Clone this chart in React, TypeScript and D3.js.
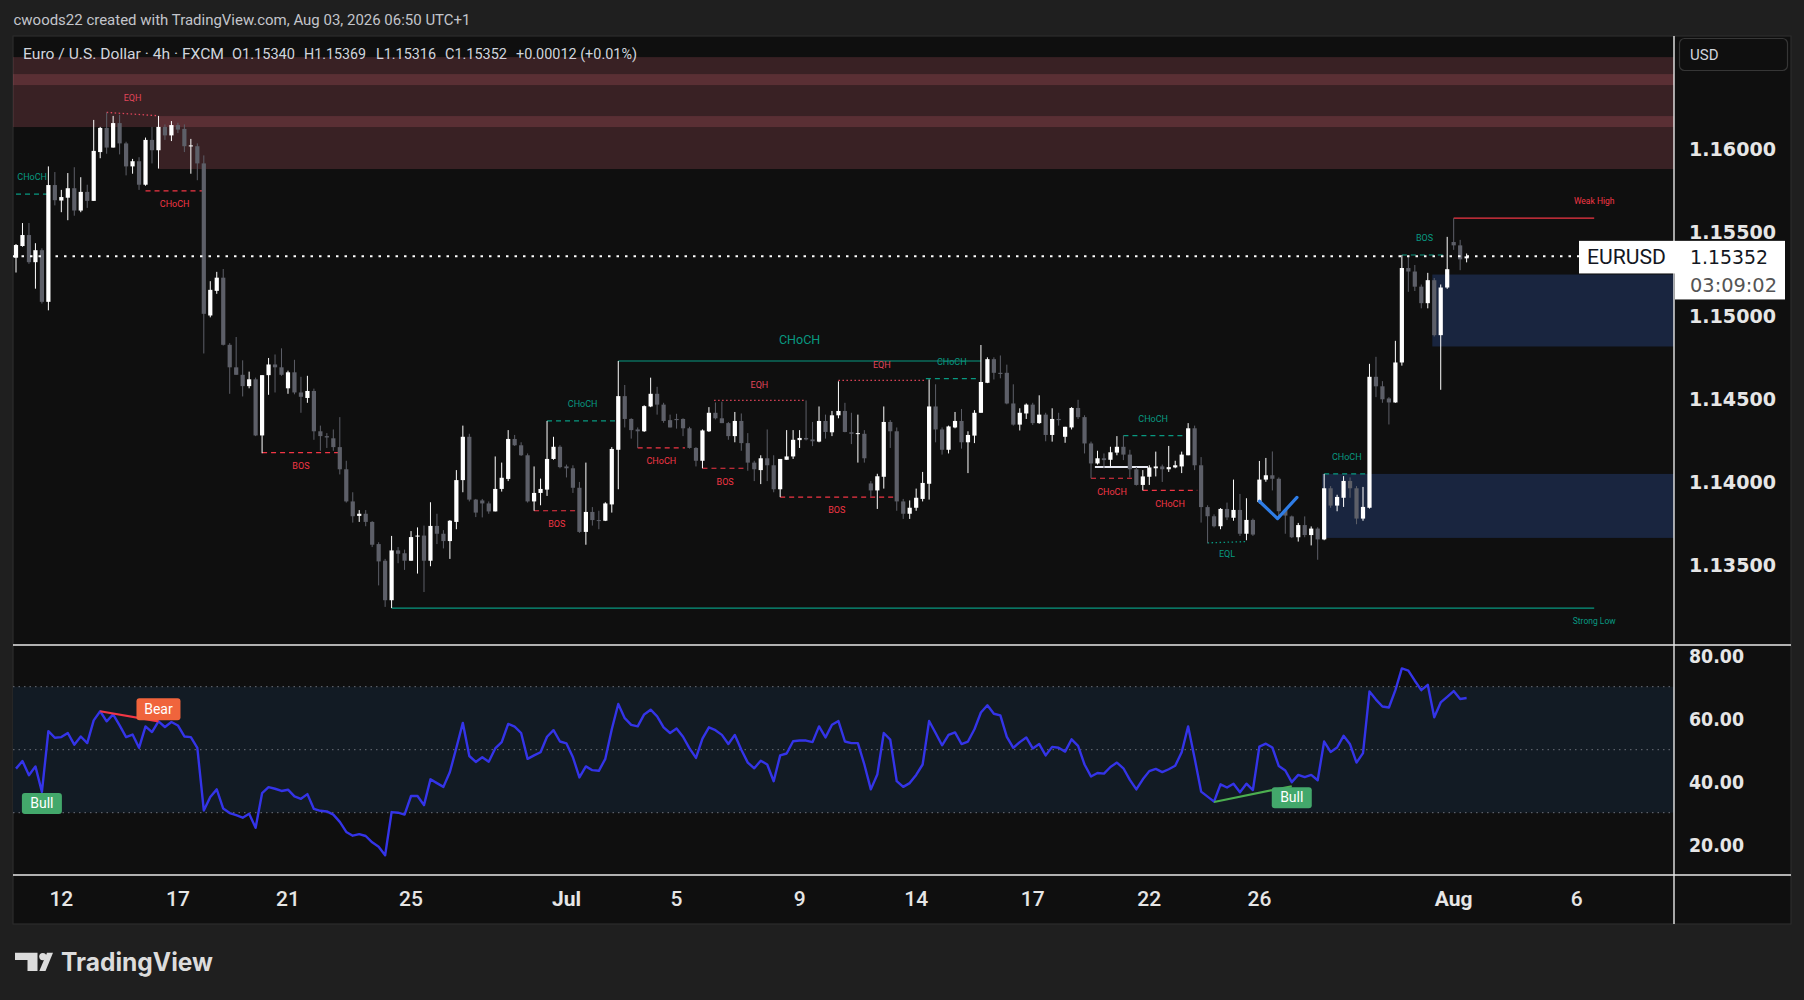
import React from 'react';
import * as d3 from 'd3';

// 4h candles, EURUSD (bar 0 = Jun 11 late session)
const opens = [
  1.15344, 1.15414, 1.1548, 1.15317, 1.15389, 1.15079, 1.1578, 1.15687, 1.15704, 1.15761,
  1.15627, 1.15739, 1.15685, 1.15978, 1.16123, 1.16005, 1.16152, 1.1603, 1.15892, 1.15923,
  1.15782, 1.16051, 1.15989, 1.16129, 1.16078, 1.1614, 1.16117, 1.16013, 1.16013, 1.1591,
  1.14997, 1.15145, 1.15224, 1.14821, 1.14686, 1.14641, 1.14573, 1.14614, 1.14277, 1.14639,
  1.14703, 1.14686, 1.1456, 1.14656, 1.14535, 1.14502, 1.14544, 1.14302, 1.14273, 1.1426,
  1.14207, 1.14074, 1.13881, 1.13794, 1.13807, 1.13758, 1.13625, 1.13525, 1.13288, 1.13587,
  1.1357, 1.13525, 1.1367, 1.13676, 1.13525, 1.13734, 1.13687, 1.13643, 1.13758, 1.14009,
  1.14269, 1.13892, 1.13887, 1.13869, 1.13821, 1.13956, 1.14016, 1.14256, 1.14218, 1.14158,
  1.13881, 1.13932, 1.13952, 1.14136, 1.14209, 1.14091, 1.1408, 1.13963, 1.13698, 1.13818,
  1.13769, 1.13765, 1.13863, 1.14191, 1.14513, 1.14376, 1.14313, 1.14302, 1.14451, 1.14527,
  1.14462, 1.14369, 1.14376, 1.14376, 1.1432, 1.14202, 1.14125, 1.14302, 1.14413, 1.1438,
  1.14351, 1.14273, 1.14364, 1.14231, 1.14114, 1.14069, 1.1414, 1.14098, 1.13954, 1.14131,
  1.14151, 1.14249, 1.14262, 1.14253, 1.1424, 1.14364, 1.14296, 1.14398, 1.14424, 1.14296,
  1.14287, 1.14287, 1.13989, 1.13947, 1.14029, 1.14358, 1.14302, 1.13881, 1.13807, 1.13843,
  1.13896, 1.13987, 1.14451, 1.14313, 1.14191, 1.14325, 1.14364, 1.14236, 1.14276, 1.14413,
  1.14593, 1.14735, 1.14653, 1.14653, 1.14469, 1.14342, 1.14409, 1.14462, 1.14351, 1.14402,
  1.1428, 1.14376, 1.14269, 1.14325, 1.14442, 1.14387, 1.14229, 1.14109, 1.1414, 1.14131,
  1.14174, 1.14209, 1.14162, 1.14074, 1.1398, 1.14029, 1.1408, 1.14091, 1.14074, 1.14085,
  1.14091, 1.14158, 1.1432, 1.14098, 1.13847, 1.13792, 1.13732, 1.13836, 1.13783, 1.1383,
  1.13687, 1.1377, 1.13877, 1.14012, 1.14038, 1.14017, 1.1383, 1.13791, 1.13666, 1.13739,
  1.13679, 1.13718, 1.13653, 1.1396, 1.13856, 1.13903, 1.14004, 1.1396, 1.13778, 1.13843,
  1.14629, 1.14572, 1.14499, 1.14475, 1.14715, 1.15282, 1.15261, 1.1517, 1.15071, 1.15209,
  1.14879, 1.15165, 1.15438, 1.15418, 1.1534,
];
const highs = [
  1.15426, 1.15552, 1.15552, 1.15431, 1.154, 1.15892, 1.15858, 1.15751, 1.15852, 1.15887,
  1.15827, 1.15782, 1.16171, 1.16129, 1.16216, 1.16195, 1.16202, 1.1604, 1.15937, 1.15947,
  1.16065, 1.16129, 1.16195, 1.16144, 1.16164, 1.16154, 1.16144, 1.16057, 1.1603, 1.15958,
  1.15203, 1.15259, 1.15276, 1.14831, 1.14868, 1.14728, 1.1466, 1.14624, 1.14639, 1.14742,
  1.14763, 1.148, 1.14666, 1.14731, 1.14629, 1.14635, 1.14558, 1.14336, 1.14291, 1.14313,
  1.14387, 1.14125, 1.13936, 1.13829, 1.13829, 1.13763, 1.13636, 1.13536, 1.13674, 1.13607,
  1.13592, 1.13703, 1.13725, 1.13736, 1.13876, 1.13807, 1.13709, 1.13769, 1.14069, 1.14336,
  1.14287, 1.13896, 1.13896, 1.13881, 1.14151, 1.14114, 1.14309, 1.1428, 1.14236, 1.14169,
  1.14091, 1.14018, 1.14364, 1.14269, 1.14218, 1.14102, 1.14098, 1.13998, 1.14114, 1.13847,
  1.13825, 1.13876, 1.14207, 1.14724, 1.1458, 1.1438, 1.14325, 1.14458, 1.14624, 1.14569,
  1.14473, 1.14402, 1.14407, 1.1438, 1.14329, 1.14207, 1.14313, 1.14447, 1.14475, 1.1448,
  1.14358, 1.14418, 1.14409, 1.14291, 1.14125, 1.14158, 1.14313, 1.14158, 1.14136, 1.14309,
  1.14309, 1.14309, 1.14487, 1.14358, 1.14451, 1.14402, 1.14424, 1.14602, 1.14473, 1.14413,
  1.14402, 1.14309, 1.14003, 1.14047, 1.14451, 1.14369, 1.14325, 1.13896, 1.13887, 1.13958,
  1.14058, 1.14613, 1.14584, 1.14325, 1.14336, 1.14418, 1.14436, 1.14302, 1.14429, 1.1482,
  1.14746, 1.14746, 1.14757, 1.14702, 1.14584, 1.1444, 1.14469, 1.14473, 1.14518, 1.14413,
  1.1444, 1.14413, 1.14329, 1.14447, 1.14491, 1.14398, 1.1424, 1.14185, 1.14169, 1.14209,
  1.14273, 1.14276, 1.14191, 1.14087, 1.14069, 1.14098, 1.1418, 1.14102, 1.14214, 1.14125,
  1.1418, 1.14351, 1.14336, 1.14147, 1.13858, 1.13803, 1.13841, 1.13874, 1.14012, 1.13926,
  1.139, 1.13778, 1.14124, 1.14142, 1.14181, 1.14025, 1.1383, 1.13796, 1.13752, 1.13791,
  1.13731, 1.13726, 1.14046, 1.13973, 1.13921, 1.14033, 1.14025, 1.13973, 1.13968, 1.14707,
  1.14749, 1.14603, 1.14507, 1.14845, 1.1536, 1.1536, 1.153, 1.15183, 1.15253, 1.15222,
  1.15183, 1.15469, 1.15581, 1.15451, 1.15369,
];
const lows = [
  1.15255, 1.1541, 1.15307, 1.15158, 1.15069, 1.15028, 1.15658, 1.15617, 1.15569, 1.15596,
  1.15617, 1.15643, 1.15685, 1.15941, 1.15968, 1.16005, 1.15964, 1.15838, 1.15848, 1.15751,
  1.15776, 1.1591, 1.15879, 1.16051, 1.16044, 1.16092, 1.15978, 1.15848, 1.15809, 1.14769,
  1.14986, 1.15127, 1.14817, 1.14527, 1.14641, 1.14511, 1.1456, 1.14273, 1.1417, 1.14521,
  1.14535, 1.14635, 1.14527, 1.14524, 1.14413, 1.14473, 1.14251, 1.14185, 1.14202, 1.14185,
  1.14043, 1.13874, 1.13754, 1.13758, 1.13732, 1.13607, 1.13377, 1.13248, 1.13241, 1.1351,
  1.1347, 1.13525, 1.13448, 1.13337, 1.13492, 1.13625, 1.13599, 1.13536, 1.13714, 1.13936,
  1.13881, 1.13787, 1.13785, 1.13807, 1.13821, 1.1394, 1.14003, 1.14214, 1.14154, 1.13874,
  1.13825, 1.13858, 1.13914, 1.14131, 1.1408, 1.14025, 1.13932, 1.13692, 1.13621, 1.13736,
  1.13714, 1.13763, 1.13814, 1.13954, 1.14325, 1.14258, 1.14202, 1.14298, 1.14447, 1.14402,
  1.14353, 1.14325, 1.14318, 1.14273, 1.14198, 1.14091, 1.1408, 1.14298, 1.14373, 1.14351,
  1.14251, 1.14236, 1.14185, 1.14065, 1.14003, 1.13985, 1.14003, 1.13936, 1.13907, 1.14131,
  1.14136, 1.14202, 1.14247, 1.14213, 1.14236, 1.14258, 1.14273, 1.1438, 1.14296, 1.14225,
  1.14114, 1.14114, 1.13909, 1.13836, 1.13958, 1.14202, 1.13825, 1.13776, 1.13776, 1.13825,
  1.13881, 1.13892, 1.14236, 1.14162, 1.14169, 1.1432, 1.14198, 1.14051, 1.14231, 1.14413,
  1.14591, 1.14613, 1.1462, 1.14464, 1.14336, 1.14307, 1.14376, 1.1434, 1.14347, 1.14242,
  1.1424, 1.14336, 1.14233, 1.14313, 1.14376, 1.14169, 1.1402, 1.14102, 1.1408, 1.14091,
  1.14158, 1.14129, 1.14025, 1.13976, 1.13947, 1.1398, 1.14031, 1.13998, 1.14058, 1.1408,
  1.14051, 1.14158, 1.14069, 1.13754, 1.1363, 1.13725, 1.13714, 1.13769, 1.13765, 1.13674,
  1.13648, 1.13674, 1.13869, 1.13999, 1.13947, 1.13778, 1.13687, 1.13661, 1.1364, 1.13666,
  1.13617, 1.13531, 1.13648, 1.13843, 1.13822, 1.13848, 1.13903, 1.13744, 1.13765, 1.13838,
  1.14507, 1.14473, 1.14343, 1.14473, 1.14696, 1.15139, 1.15144, 1.1504, 1.1504, 1.14871,
  1.14551, 1.15157, 1.15391, 1.15269, 1.15316,
];
const closes = [
  1.1542, 1.1548, 1.15317, 1.15389, 1.15079, 1.1578, 1.15689, 1.15708, 1.15761, 1.15627,
  1.15739, 1.15685, 1.15985, 1.16123, 1.16005, 1.16152, 1.1603, 1.15892, 1.15923, 1.15782,
  1.16051, 1.15989, 1.16129, 1.16078, 1.1614, 1.16113, 1.16013, 1.16018, 1.1591, 1.15007,
  1.15151, 1.15224, 1.14821, 1.14686, 1.14641, 1.14573, 1.14614, 1.14277, 1.14639, 1.14703,
  1.14686, 1.14641, 1.14656, 1.14535, 1.14509, 1.14544, 1.14302, 1.14273, 1.14265, 1.14207,
  1.14074, 1.13881, 1.13792, 1.13807, 1.13758, 1.13621, 1.13521, 1.13288, 1.13587, 1.13567,
  1.13525, 1.13667, 1.13676, 1.13525, 1.13734, 1.13687, 1.13643, 1.13765, 1.14009, 1.14269,
  1.13892, 1.13814, 1.13869, 1.13821, 1.13956, 1.14023, 1.14256, 1.14218, 1.14158, 1.13881,
  1.13932, 1.13956, 1.14136, 1.14209, 1.14087, 1.1408, 1.13963, 1.13698, 1.13818, 1.13769,
  1.13765, 1.13869, 1.14196, 1.14513, 1.14376, 1.14309, 1.14302, 1.14453, 1.14527, 1.14462,
  1.14364, 1.14325, 1.14369, 1.1432, 1.14202, 1.14125, 1.14307, 1.14413, 1.1438, 1.14351,
  1.14273, 1.14364, 1.14231, 1.14114, 1.14074, 1.1414, 1.14098, 1.13954, 1.14136, 1.14151,
  1.14251, 1.14262, 1.14253, 1.14242, 1.14364, 1.14298, 1.14398, 1.14424, 1.14298, 1.14287,
  1.14291, 1.1414, 1.13947, 1.14032, 1.14358, 1.14302, 1.13881, 1.13807, 1.13843, 1.13903,
  1.13992, 1.14451, 1.14313, 1.14191, 1.14331, 1.14364, 1.14236, 1.1428, 1.14413, 1.14598,
  1.14735, 1.14653, 1.14646, 1.14469, 1.14342, 1.14413, 1.14462, 1.14351, 1.14402, 1.1428,
  1.14376, 1.14369, 1.14329, 1.14442, 1.14387, 1.14229, 1.14109, 1.1414, 1.14129, 1.14176,
  1.14209, 1.14162, 1.14074, 1.1398, 1.14031, 1.14085, 1.14091, 1.14074, 1.14087, 1.14098,
  1.14162, 1.1432, 1.14098, 1.13847, 1.13792, 1.13732, 1.13836, 1.13785, 1.1383, 1.13687,
  1.1377, 1.13682, 1.14012, 1.14038, 1.14017, 1.13822, 1.13796, 1.13666, 1.13739, 1.13679,
  1.13718, 1.13653, 1.1396, 1.13856, 1.13908, 1.14004, 1.1396, 1.13778, 1.13848, 1.14629,
  1.14572, 1.14494, 1.14475, 1.14715, 1.15282, 1.15261, 1.1517, 1.15071, 1.15209, 1.14879,
  1.15165, 1.15275, 1.15418, 1.15334, 1.15352,
];
const rsiValues = [
  44.0, 46.4, 41.9, 44.7, 36.6, 55.9, 53.8, 54.0, 55.3, 51.6,
  54.2, 52.1, 59.3, 62.2, 59.0, 61.2, 57.7, 54.0, 54.8, 50.6,
  57.4, 55.6, 59.0, 57.2, 58.8, 57.7, 54.2, 54.0, 50.6, 30.7,
  35.0, 37.4, 31.3, 29.9, 29.2, 28.4, 29.7, 25.2, 36.2, 38.1,
  37.6, 36.9, 37.3, 35.2, 34.4, 35.9, 31.2, 30.6, 30.4, 29.4,
  27.1, 23.9, 22.7, 23.2, 22.6, 20.6, 19.2, 16.5, 30.2, 30.0,
  29.4, 35.3, 35.3, 32.4, 40.6, 39.4, 38.2, 42.9, 50.6, 58.5,
  48.0, 46.1, 47.6, 46.2, 50.4, 52.4, 58.2, 57.3, 55.3, 47.1,
  48.2, 49.2, 54.1, 56.2, 52.6, 52.0, 47.6, 41.2, 44.7, 43.5,
  43.3, 47.1, 56.5, 64.5, 60.0, 57.9, 57.4, 61.2, 62.7, 60.6,
  57.1, 55.3, 56.7, 54.1, 50.4, 47.4, 53.5, 57.1, 56.2, 54.7,
  51.8, 54.7, 50.0, 45.9, 44.1, 46.5, 45.3, 40.0, 48.2, 48.8,
  52.7, 52.9, 52.9, 52.4, 57.4, 53.9, 57.9, 59.1, 52.6, 52.1,
  52.1, 45.3, 37.4, 42.1, 55.3, 53.2, 40.0, 38.2, 39.4, 42.0,
  45.3, 59.1, 55.3, 51.4, 54.7, 55.5, 51.8, 52.6, 56.5, 61.8,
  64.1, 61.4, 60.9, 54.1, 50.6, 52.4, 53.9, 50.4, 51.8, 48.2,
  50.9, 50.6, 49.4, 53.3, 51.2, 45.3, 41.5, 42.6, 42.4, 44.5,
  45.9, 44.1, 40.4, 37.4, 40.6, 43.2, 43.9, 42.9, 43.8, 44.9,
  49.2, 57.4, 47.3, 36.7, 35.1, 33.5, 39.0, 38.0, 39.2, 36.5,
  39.2, 37.2, 51.0, 51.9, 50.7, 44.8, 43.4, 39.7, 42.0, 41.3,
  42.0, 40.3, 52.6, 49.3, 50.7, 54.4, 51.7, 45.9, 48.9, 68.5,
  65.9, 63.7, 63.4, 68.9, 75.8, 75.1, 71.9, 68.9, 70.6, 60.3,
  65.0, 66.8, 68.6, 66.1, 66.4,
];

const priceTicks = [1.16, 1.155, 1.15, 1.145, 1.14, 1.135];
const rsiTicks = [80, 60, 40, 20];
const rsiLevels = [70, 50, 30];
const timeTickBars = [7, 25, 42, 61, 85, 102, 121, 139, 157, 175, 192, 222, 241];
const timeTickLabels = ['12', '17', '21', '25', 'Jul', '5', '9', '14', '17', '22', '26', 'Aug', '6'];

// smart-money-concepts overlay
const internalBreaks = [
  { label: 'CHoCH', side: 'bull', from: 0, to: 5, price: 1.15726 },
  { label: 'CHoCH', side: 'bear', from: 20, to: 29, price: 1.15745 },
  { label: 'BOS', side: 'bear', from: 38, to: 50, price: 1.14174 },
  { label: 'BOS', side: 'bear', from: 80, to: 87, price: 1.13825 },
  { label: 'CHoCH', side: 'bull', from: 82, to: 93, price: 1.14364 },
  { label: 'CHoCH', side: 'bear', from: 96, to: 103.3, price: 1.14202 },
  { label: 'BOS', side: 'bear', from: 106, to: 113, price: 1.1408 },
  { label: 'BOS', side: 'bear', from: 118, to: 135.5, price: 1.13907 },
  { label: 'CHoCH', side: 'bull', from: 140.5, to: 148.5, price: 1.14618 },
  { label: 'CHoCH', side: 'bear', from: 166, to: 172.5, price: 1.1402 },
  { label: 'CHoCH', side: 'bull', from: 171, to: 180.2, price: 1.14276 },
  { label: 'CHoCH', side: 'bear', from: 174, to: 182.4, price: 1.13947 },
  { label: 'CHoCH', side: 'bull', from: 202, to: 209, price: 1.14046 },
  { label: 'BOS', side: 'bull', from: 214, to: 221, price: 1.1536 },
];
const swingBreaks = [{ label: 'CHoCH', side: 'bull', from: 93, to: 149, price: 1.14724 }];
const equalLevels = [
  { label: 'EQH', from: 14, to: 22, startPrice: 1.16216, endPrice: 1.16196 },
  { label: 'EQH', from: 107.8, to: 121.8, startPrice: 1.14487, endPrice: 1.14487 },
  { label: 'EQH', from: 127, to: 140.4, startPrice: 1.14607, endPrice: 1.14607 },
  { label: 'EQL', from: 184, to: 190, startPrice: 1.13632, endPrice: 1.1364 },
];
const trailingLevels = [
  { label: 'Strong Low', from: 58, to: 243.7, price: 1.13241 },
  { label: 'Weak High', from: 222, to: 243.7, price: 1.15581 },
];
const supplyZones = [
  { from: -3, top: 1.16548, bottom: 1.1638 },
  { from: -3, top: 1.16446, bottom: 1.16128 },
  { from: 22, top: 1.16194, bottom: 1.15876 },
];
const demandZones = [
  { from: 201.7, top: 1.14046, bottom: 1.13662 },
  { from: 218.7, top: 1.15243, bottom: 1.14811 },
];
const drawnLines = [{ from: 166.6, to: 174.8, price: 1.14087 }];
const checkMark = [
  [192, 1.13882],
  [194.8, 1.13778],
  [197.8, 1.13905],
];

// RSI divergences
const divergenceLines = [
  { side: 'bear', from: 13, to: 22, startValue: 62.2, endValue: 59.0 },
  { side: 'bull', from: 185, to: 197, startValue: 33.4, endValue: 38.4 },
];
const divergenceLabels = [
  { label: 'Bull', bar: 4, value: 36.6 },
  { label: 'Bear', bar: 22, value: 59.0 },
  { label: 'Bull', bar: 197, value: 38.4 },
];

const legendParts = ['Euro / U.S. Dollar · 4h · FXCM', 'O1.15340', 'H1.15369', 'L1.15316', 'C1.15352', '+0.00012 (+0.01%)'];
const legendX = [23, 232, 304, 376, 445, 516];
const legendW = [201, 63, 62, 60, 62, 121];

const GREEN = '#089981';
const RED = '#f23645';
const TEXT = '#d1d4dc';
const DOWN = '#5d5f68';
const PANE = '#0f0f0f';

export default function App() {
  const left = 13;
  const right = 1791;
  const plotRight = 1674;
  const top = 36;
  const mainBottom = 645;
  const rsiBottom = 875;
  const bottom = 924;

  const x = d3.scaleLinear().domain([0, 256]).range([16, 16 + 6.476 * 256]);
  const y = d3.scaleLinear().domain([1.135, 1.16]).range([564.9, 148.4]);
  const ry = d3.scaleLinear().domain([20, 80]).range([844.2, 655.2]);

  const rsiLine = d3
    .line<number>()
    .x((d, i) => x(i))
    .y((d) => ry(d));

  const bodyW = 4.2;
  const lastPrice = closes[closes.length - 1];
  const lastY = y(lastPrice);

  return (
    <svg width={1804} height={1000} style={{ position: 'fixed', left: 0, top: 0 }} fontFamily="Roboto, 'DejaVu Sans', sans-serif">
      <defs>
        <clipPath id="mainClip">
          <rect x={left} y={top} width={plotRight - left} height={mainBottom - top} />
        </clipPath>
        <clipPath id="rsiClip">
          <rect x={left} y={mainBottom} width={plotRight - left} height={rsiBottom - mainBottom} />
        </clipPath>
      </defs>

      <rect width={1804} height={1000} fill="#1f1f1f" />
      <text x={13.5} y={25} fontSize={15} fill="#c3c5cb" textLength={457} lengthAdjust="spacingAndGlyphs">
        cwoods22 created with TradingView.com, Aug 03, 2026 06:50 UTC+1
      </text>

      <rect x={left} y={top} width={right - left} height={bottom - top} fill={PANE} stroke="#2c2c2c" strokeWidth={1.2} />

      {/* main pane */}
      <g clipPath="url(#mainClip)">
        {supplyZones.map((z, i) => (
          <rect key={'s' + i} x={x(z.from)} y={y(z.top)} width={plotRight - x(z.from)} height={y(z.bottom) - y(z.top)} fill="rgba(226,107,120,0.2)" />
        ))}
        {demandZones.map((z, i) => (
          <rect key={'d' + i} x={x(z.from)} y={y(z.top)} width={plotRight - x(z.from)} height={y(z.bottom) - y(z.top)} fill="#19253f" />
        ))}

        {internalBreaks.map((b, i) => {
          const c = b.side === 'bull' ? GREEN : RED;
          const yy = y(b.price);
          return (
            <g key={'ib' + i}>
              <line x1={x(b.from)} x2={x(b.to)} y1={yy} y2={yy} stroke={c} strokeWidth={1.2} strokeDasharray="5 4" />
              <text x={(x(b.from) + x(b.to)) / 2} y={yy + (b.side === 'bull' ? -16 : 14)} fontSize={9} fill={c} textAnchor="middle" dominantBaseline="middle">
                {b.label}
              </text>
            </g>
          );
        })}
        {swingBreaks.map((b, i) => {
          const yy = y(b.price);
          return (
            <g key={'sb' + i}>
              <line x1={x(b.from)} x2={x(b.to)} y1={yy} y2={yy} stroke={GREEN} strokeWidth={1.1} />
              <text x={(x(b.from) + x(b.to)) / 2} y={yy - 20} fontSize={12.5} fill={GREEN} textAnchor="middle" dominantBaseline="middle">
                {b.label}
              </text>
            </g>
          );
        })}
        {equalLevels.map((e, i) => {
          const c = e.label === 'EQH' ? '#e0455a' : GREEN;
          const y1 = y(e.startPrice);
          const y2 = y(e.endPrice);
          return (
            <g key={'eq' + i}>
              <line x1={x(e.from)} x2={x(e.to)} y1={y1} y2={y2} stroke={c} strokeWidth={1.3} strokeDasharray="1.5 2.5" />
              <text x={(x(e.from) + x(e.to)) / 2} y={(y1 + y2) / 2 + (e.label === 'EQH' ? -15 : 12.5)} fontSize={9} fill={c} textAnchor="middle" dominantBaseline="middle">
                {e.label}
              </text>
            </g>
          );
        })}
        {trailingLevels.map((t, i) => {
          const c = t.label === 'Strong Low' ? GREEN : RED;
          const yy = y(t.price);
          return (
            <g key={'tl' + i}>
              <line x1={x(t.from)} x2={x(t.to)} y1={yy} y2={yy} stroke={c} strokeWidth={1.2} />
              <text x={x(t.to)} y={yy + (t.label === 'Strong Low' ? 14 : -16)} fontSize={8.5} fill={c} textAnchor="middle" dominantBaseline="middle">
                {t.label}
              </text>
            </g>
          );
        })}
        {drawnLines.map((l, i) => (
          <line key={'dl' + i} x1={x(l.from)} x2={x(l.to)} y1={y(l.price)} y2={y(l.price)} stroke="#e6e8f2" strokeWidth={2} />
        ))}

        {opens.map((o, i) => {
          const c = closes[i];
          const up = c >= o;
          const col = up ? '#ffffff' : DOWN;
          const cx = x(i);
          const yTop = y(Math.max(o, c));
          const yBot = y(Math.min(o, c));
          return (
            <g key={'c' + i}>
              <line x1={cx} x2={cx} y1={y(highs[i])} y2={y(lows[i])} stroke={col} strokeWidth={1} />
              <rect x={cx - bodyW / 2} y={yTop} width={bodyW} height={Math.max(1, yBot - yTop)} fill={col} />
            </g>
          );
        })}

        <polyline
          points={checkMark.map((p) => `${x(p[0])},${y(p[1])}`).join(' ')}
          fill="none"
          stroke="#2f7de6"
          strokeWidth={3.2}
          strokeLinecap="round"
          strokeLinejoin="round"
        />

        <line x1={left} x2={1579} y1={lastY} y2={lastY} stroke="#ffffff" strokeWidth={2} strokeDasharray="2.5 6" />
      </g>

      {/* header legend */}
      {legendParts.map((t, i) => (
        <text key={'lg' + i} x={legendX[i]} y={58.5} fontSize={15} fill={TEXT} textLength={legendW[i]} lengthAdjust="spacingAndGlyphs">
          {t}
        </text>
      ))}

      {/* RSI pane */}
      <rect x={left} y={ry(70)} width={plotRight - left} height={ry(30) - ry(70)} fill="#121b24" />
      {rsiLevels.map((v) => (
        <line key={'lv' + v} x1={left} x2={plotRight} y1={ry(v)} y2={ry(v)} stroke="#6d707a" strokeWidth={1} strokeDasharray="1.5 4" />
      ))}
      <g clipPath="url(#rsiClip)">
        <path d={rsiLine(rsiValues) || ''} fill="none" stroke="#3434e8" strokeWidth={2.4} strokeLinejoin="round" />
        {divergenceLines.map((d, i) => (
          <line
            key={'dv' + i}
            x1={x(d.from)}
            x2={x(d.to)}
            y1={ry(d.startValue)}
            y2={ry(d.endValue)}
            stroke={d.side === 'bull' ? '#4caf50' : RED}
            strokeWidth={2.2}
          />
        ))}
        {divergenceLabels.map((d, i) => {
          const bull = d.label === 'Bull';
          const w = bull ? 40 : 44;
          const h = bull ? 21 : 22;
          const cx = x(d.bar);
          const py = ry(d.value);
          const y0 = bull ? py + 1 : py - 1 - h;
          const fill = bull ? '#43a86b' : '#f0643c';
          return (
            <g key={'dlab' + i}>
              <rect x={cx - w / 2} y={y0} width={w} height={h} rx={3} fill={fill} />
              <text x={cx} y={y0 + h / 2 + 1} fontSize={14} fill="#ffffff" textAnchor="middle" dominantBaseline="middle">
                {d.label}
              </text>
            </g>
          );
        })}
      </g>

      {/* separators */}
      <line x1={left} x2={right} y1={mainBottom} y2={mainBottom} stroke="#e8e8e8" strokeWidth={1.4} />
      <line x1={left} x2={right} y1={rsiBottom} y2={rsiBottom} stroke="#e8e8e8" strokeWidth={1.4} />
      <line x1={plotRight} x2={plotRight} y1={top} y2={bottom} stroke="#e8e8e8" strokeWidth={1.4} />

      {/* price axis */}
      <rect x={1679.5} y={38.5} width={108} height={32} rx={5} fill={PANE} stroke="#363636" strokeWidth={1.2} />
      <text x={1690} y={59.5} fontSize={15} fill={TEXT}>
        USD
      </text>
      {priceTicks.map((p) => (
        <text key={'pt' + p} x={1689} y={y(p) + 7.5} fontSize={20} fontWeight={700} fill="#e6e6e6" fontFamily="'DejaVu Sans', sans-serif" textLength={87} lengthAdjust="spacingAndGlyphs">
          {p.toFixed(5)}
        </text>
      ))}
      {rsiTicks.map((v) => (
        <text key={'rt' + v} x={1689} y={ry(v) + 7.5} fontSize={20} fontWeight={700} fill="#e6e6e6" fontFamily="'DejaVu Sans', sans-serif" textLength={55} lengthAdjust="spacingAndGlyphs">
          {v.toFixed(2)}
        </text>
      ))}

      {/* last price tag */}
      <rect x={1579} y={lastY - 15.5} width={96} height={32.6} fill="#ffffff" />
      <rect x={1675} y={lastY - 15.5} width={110} height={58.6} fill="#ffffff" />
      <text x={1587} y={lastY + 7.5} fontSize={21} fill="#131722" textLength={79} lengthAdjust="spacingAndGlyphs">
        EURUSD
      </text>
      <text x={1690} y={lastY + 8} fontSize={20} fill="#131722" fontFamily="'DejaVu Sans', sans-serif" textLength={78} lengthAdjust="spacingAndGlyphs">
        {lastPrice.toFixed(5)}
      </text>
      <text x={1690} y={lastY + 36} fontSize={20} fill="#555555" fontFamily="'DejaVu Sans', sans-serif" textLength={87} lengthAdjust="spacingAndGlyphs">
        03:09:02
      </text>

      {/* time axis */}
      {timeTickBars.map((b, i) => {
        const month = /[A-Za-z]/.test(timeTickLabels[i]);
        return (
          <text key={'tt' + i} x={x(b)} y={905.5} fontSize={21} fontWeight={month ? 700 : 500} fill="#e6e6e6" textAnchor="middle">
            {timeTickLabels[i]}
          </text>
        );
      })}

      {/* TradingView mark */}
      <g fill="#dcdcdc">
        <path d="M15 952.7 H37.5 V971 H27.5 V960 H15 Z" />
        <circle cx={42.8} cy={956.6} r={3.6} />
        <path d="M47 952.7 H53 L45.5 971 H39.3 Z" />
      </g>
      <text x={61} y={971} fontSize={25} fontWeight={700} fill="#dcdcdc" fontFamily="Inter, Roboto, sans-serif" textLength={152} lengthAdjust="spacingAndGlyphs">
        TradingView
      </text>
    </svg>
  );
}
